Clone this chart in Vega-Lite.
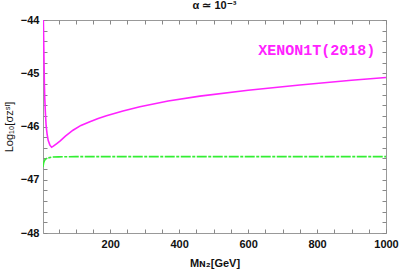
{
  "$schema": "https://vega.github.io/schema/vega-lite/v6.json",
  "width": 343,
  "height": 213,
  "autosize": "none",
  "padding": {"left": 43, "top": 20, "right": 13, "bottom": 36},
  "background": "white",
  "title": {"text": "α ≃ 10⁻³", "fontSize": 11, "fontWeight": "bold", "font": "Liberation Sans", "offset": 3, "color": "#111"},
  "config": {
    "view": {"stroke": "#999", "strokeWidth": 1},
    "axis": {
      "domain": false,
      "ticks": true,
      "tickColor": "#888",
      "tickWidth": 1,
      "tickSize": 4,
      "offset": -4,
      "grid": false,
      "labelFont": "Liberation Sans",
      "labelFontWeight": "bold",
      "labelFontSize": 11,
      "labelColor": "#111",
      "labelOverlap": false,
      "titleFont": "Liberation Sans",
      "titleFontWeight": "bold",
      "titleFontSize": 11,
      "titleColor": "#111"
    }
  },
  "datasets": {
    "curves": [
      {"M": 6, "y": -44.0, "s": "XENON1T"},
      {"M": 7, "y": -44.4, "s": "XENON1T"},
      {"M": 8, "y": -44.8, "s": "XENON1T"},
      {"M": 9, "y": -45.2, "s": "XENON1T"},
      {"M": 10, "y": -45.45, "s": "XENON1T"},
      {"M": 12, "y": -45.75, "s": "XENON1T"},
      {"M": 14, "y": -45.98, "s": "XENON1T"},
      {"M": 17, "y": -46.15, "s": "XENON1T"},
      {"M": 20, "y": -46.26, "s": "XENON1T"},
      {"M": 25, "y": -46.35, "s": "XENON1T"},
      {"M": 30, "y": -46.39, "s": "XENON1T"},
      {"M": 35, "y": -46.37, "s": "XENON1T"},
      {"M": 45, "y": -46.32, "s": "XENON1T"},
      {"M": 55, "y": -46.27, "s": "XENON1T"},
      {"M": 70, "y": -46.18, "s": "XENON1T"},
      {"M": 92, "y": -46.07, "s": "XENON1T"},
      {"M": 115, "y": -45.98, "s": "XENON1T"},
      {"M": 141, "y": -45.91, "s": "XENON1T"},
      {"M": 165, "y": -45.85, "s": "XENON1T"},
      {"M": 189, "y": -45.8, "s": "XENON1T"},
      {"M": 237, "y": -45.71, "s": "XENON1T"},
      {"M": 286, "y": -45.63, "s": "XENON1T"},
      {"M": 368, "y": -45.52, "s": "XENON1T"},
      {"M": 460, "y": -45.43, "s": "XENON1T"},
      {"M": 600, "y": -45.32, "s": "XENON1T"},
      {"M": 750, "y": -45.22, "s": "XENON1T"},
      {"M": 900, "y": -45.13, "s": "XENON1T"},
      {"M": 1000, "y": -45.08, "s": "XENON1T"},
      {"M": 5, "y": -46.76, "s": "model"},
      {"M": 7, "y": -46.68, "s": "model"},
      {"M": 10, "y": -46.63, "s": "model"},
      {"M": 15, "y": -46.6, "s": "model"},
      {"M": 20, "y": -46.59, "s": "model"},
      {"M": 30, "y": -46.575, "s": "model"},
      {"M": 50, "y": -46.57, "s": "model"},
      {"M": 100, "y": -46.566, "s": "model"},
      {"M": 300, "y": -46.565, "s": "model"},
      {"M": 600, "y": -46.565, "s": "model"},
      {"M": 1000, "y": -46.565, "s": "model"}
    ],
    "labels": [
      {"M": 799, "y": -44.56, "t": "XENON1T(2018)"}
    ]
  },
  "layer": [
    {
      "data": {"name": "curves"},
      "transform": [{"filter": "datum.s === 'XENON1T'"}],
      "mark": {"type": "line", "color": "#ff22ff", "strokeWidth": 1.6, "clip": true},
      "encoding": {
        "x": {"field": "M", "type": "quantitative",
          "scale": {"domain": [5, 1000], "nice": false, "zero": false},
          "axis": {
            "orient": "bottom",
            "title": "Mɴ₂[GeV]",
            "titlePadding": 8,
            "ticks": true,
            "tickSize": 4,
            "offset": -4,
            "values": [50,100,150,200,250,300,350,400,450,500,550,600,650,700,750,800,850,900,950,1000],
            "labelExpr": "datum.value % 200 === 0 ? format(datum.value, 'd') : ''",
            "labelPadding": 5,
            "labelFlush": false
          }
        },
        "y": {"field": "y", "type": "quantitative",
          "scale": {"domain": [-48, -44], "nice": false, "zero": false},
          "axis": {
            "orient": "left",
            "title": "Log₁₀[σᴢˢᴵ]",
            "titleFontWeight": "normal",
            "titleFontSize": 11,
            "titlePadding": 6,
            "ticks": true,
            "tickSize": 4,
            "offset": -4,
            "values": [-48,-47.8,-47.6,-47.4,-47.2,-47,-46.8,-46.6,-46.4,-46.2,-46,-45.8,-45.6,-45.4,-45.2,-45,-44.8,-44.6,-44.4,-44.2,-44],
            "labelExpr": "abs(datum.value - round(datum.value)) < 0.01 ? format(round(datum.value), 'd') : ''",
            "labelPadding": 4,
            "labelFlush": false
          }
        }
      }
    },
    {
      "data": {"name": "curves"},
      "transform": [{"filter": "datum.s === 'model'"}],
      "mark": {"type": "line", "color": "#33ee33", "strokeWidth": 1.6, "strokeDash": [10, 1.5, 3, 1.5], "clip": true},
      "encoding": {
        "x": {"field": "M", "type": "quantitative",
          "axis": {
            "orient": "top",
            "title": null,
            "labels": false,
            "ticks": true,
            "tickSize": 4,
            "offset": -4,
            "values": [50,100,150,200,250,300,350,400,450,500,550,600,650,700,750,800,850,900,950,1000]
          }
        },
        "y": {"field": "y", "type": "quantitative",
          "axis": {
            "orient": "right",
            "title": null,
            "labels": false,
            "ticks": true,
            "tickSize": 4,
            "offset": -4,
            "values": [-48,-47.8,-47.6,-47.4,-47.2,-47,-46.8,-46.6,-46.4,-46.2,-46,-45.8,-45.6,-45.4,-45.2,-45,-44.8,-44.6,-44.4,-44.2,-44]
          }
        }
      }
    },
    {
      "data": {"name": "labels"},
      "mark": {"type": "text", "font": "Liberation Mono", "fontWeight": "bold", "fontSize": 15, "color": "#ff22ff", "align": "center", "baseline": "middle"},
      "encoding": {
        "x": {"field": "M", "type": "quantitative", "axis": null},
        "y": {"field": "y", "type": "quantitative", "axis": null},
        "text": {"field": "t"}
      }
    }
  ],
  "resolve": {"axis": {"x": "independent", "y": "independent"}}
}
